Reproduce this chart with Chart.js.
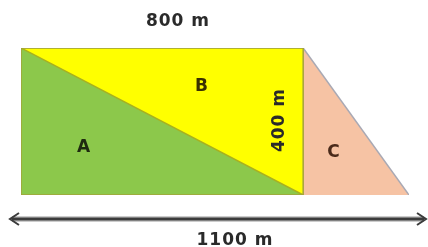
<!DOCTYPE html>
<html>
<head>
<meta charset="utf-8">
<script src="https://cdn.jsdelivr.net/npm/chart.js@4"></script>
<style>
  html, body { margin: 0; padding: 0; background: #fff; }
  #wrap { width: 428px; height: 247px; position: relative; }
</style>
</head>
<body>
<div id="wrap"><canvas id="myChart" width="428" height="247"></canvas></div>
<script>
// field dimensions (metres)
var rectWidth = 800;
var totalWidth = 1100;
var rectHeight = 400;

// shapes as corner points
var outline = [[0, 0], [0, rectHeight], [rectWidth, rectHeight], [rectWidth, 0], [0, 0]];
var diagonal = [[0, rectHeight], [rectWidth, 0]];          // A lies under it
var topEdge = [[0, rectHeight], [rectWidth, rectHeight]];  // B between top and diagonal
var slope = [[rectWidth, rectHeight], [totalWidth, 0]];    // C lies under it

// text labels
var labels = [
  { text: '800 m', x: 178, y: 22, rot: 0 },
  { text: 'A', x: 84, y: 148, rot: 0, color: '#1f2a10' },
  { text: 'B', x: 202, y: 87, rot: 0, color: '#3a3000' },
  { text: 'C', x: 334, y: 153, rot: 0, color: '#4a2a1a' },
  { text: '400 m', x: 280, y: 120, rot: -90 },
  { text: '1100 m', x: 235, y: 241, rot: 0 }
];

function pts(arr) {
  return arr.map(function (p) { return { x: p[0], y: p[1] }; });
}

// dimension arrow + texts
var extras = {
  id: 'extras',
  afterDraw: function (chart) {
    var c = chart.ctx;
    var xs = chart.scales.x;
    var x0 = xs.getPixelForValue(0) - 11;
    var x1 = xs.getPixelForValue(totalWidth) + 17;
    var y = 219;
    c.save();
    c.strokeStyle = '#9a9a9a';
    c.lineWidth = 5;
    c.beginPath(); c.moveTo(x0 + 2, y); c.lineTo(x1 - 2, y); c.stroke();
    c.strokeStyle = '#3c3c3c';
    c.lineWidth = 2.5;
    c.beginPath(); c.moveTo(x0 + 2, y); c.lineTo(x1 - 2, y); c.stroke();
    c.lineWidth = 2;
    c.beginPath();
    c.moveTo(x0 + 9, y - 6); c.lineTo(x0, y); c.lineTo(x0 + 9, y + 6);
    c.moveTo(x1 - 9, y - 6); c.lineTo(x1, y); c.lineTo(x1 - 9, y + 6);
    c.stroke();

    c.font = 'bold 17px "DejaVu Sans"';
    c.textAlign = 'center';
    c.textBaseline = 'middle';
    try { c.letterSpacing = '1px'; } catch (e) {}
    labels.forEach(function (l) {
      c.save();
      c.translate(l.x, l.y);
      c.rotate(l.rot * Math.PI / 180);
      c.fillStyle = l.color || '#2a2a2a';
      c.fillText(l.text, 0, 0);
      c.restore();
    });
    c.restore();
  }
};

var ctx = document.getElementById('myChart').getContext('2d');
var chart = new Chart(ctx, {
  type: 'scatter',
  data: {
    datasets: [
      {
        // rectangle outline
        data: pts(outline),
        showLine: true,
        borderColor: '#a3a33a',
        borderWidth: 1.5,
        pointRadius: 0,
        fill: false
      },
      {
        // A
        data: pts(diagonal),
        showLine: true,
        borderColor: '#a8b020',
        borderWidth: 1.5,
        backgroundColor: '#8cc84b',
        pointRadius: 0,
        fill: 'origin'
      },
      {
        // B
        data: pts(topEdge),
        showLine: true,
        borderColor: '#b5b53a',
        borderWidth: 1,
        backgroundColor: '#ffff00',
        pointRadius: 0,
        fill: 'origin'
      },
      {
        // C
        data: pts(slope),
        showLine: true,
        borderColor: '#a9a9b4',
        borderWidth: 1.5,
        backgroundColor: '#f6c3a4',
        pointRadius: 0,
        fill: 'origin'
      }
    ]
  },
  options: {
    responsive: false,
    animation: false,
    layout: { padding: { left: 21, right: 19, top: 48, bottom: 52 } },
    scales: {
      x: { type: 'linear', min: 0, max: totalWidth, display: false },
      y: { type: 'linear', min: 0, max: rectHeight, display: false }
    },
    plugins: {
      legend: { display: false },
      tooltip: { enabled: false }
    }
  },
  plugins: [extras]
});
</script>
</body>
</html>
